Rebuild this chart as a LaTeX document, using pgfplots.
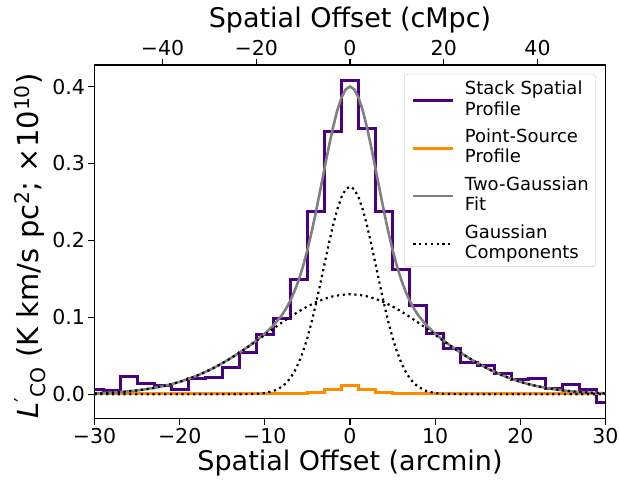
\documentclass[border=0pt]{standalone}
\usepackage{pgfplots}
\pgfplotsset{compat=1.18}
\usepackage{fontspec}
\setmainfont{DejaVu Sans}
\definecolor{cpurple}{RGB}{75,0,130}
\definecolor{corange}{RGB}{255,140,0}
\definecolor{cgrey}{RGB}{128,128,128}
\newcommand{\twoline}[2]{\vbox{\baselineskip=20.5pt\lineskiplimit=-50pt\hbox{\rule{0pt}{14pt}#1}\hbox{\rule[-3pt]{0pt}{3pt}#2}}}
\begin{document}
\begin{tikzpicture}
\begin{axis}[
  scale only axis, width=511pt, height=353.5pt,
  xmin=-30, xmax=30, ymin=-0.0315, ymax=0.428,
  xtick={-30,-20,-10,0,10,20,30}, xticklabels={−30,−20,−10,0,10,20,30},
  ytick={0,0.1,0.2,0.3,0.4}, yticklabels={0.0,0.1,0.2,0.3,0.4},
  xtick pos=left, ytick pos=left, tick align=outside, major tick length=6pt,
  every tick/.style={black, line width=1.2pt},
  axis line style={line width=1.2pt},
  tick label style={font=\fontsize{20.5}{24}\selectfont},
  xlabel style={font=\fontsize{27}{32}\selectfont},
  ylabel style={font=\fontsize{29}{34}\selectfont, at={(ticklabel cs:0.488)}},
  xlabel={Spatial Offset (arcmin)},
  ylabel={\textit{L}\textsuperscript{′}\textsubscript{CO} (K km/s pc\textsuperscript{2}; ×10\textsuperscript{10})},
  legend cell align=left,
  legend style={at={(1,1)}, anchor=north east, xshift=-9.5pt, yshift=-9pt,
    draw=black!20, rounded corners=3pt, fill=white, fill opacity=0.8, text opacity=1,
    font=\fontsize{18}{20.5}\selectfont, cells={anchor=base west, inner sep=2pt},
    row sep=7.8pt, column sep=8pt, inner xsep=5pt, inner ysep=4.5pt},
  legend image code/.code={\path (0pt,0pt); \draw[#1] (2.6pt,14.7pt) -- (42.6pt,14.7pt);},
]
\addplot[cpurple, line width=3pt, const plot mark mid] coordinates {
(-30,0.0068) (-28,0.0045) (-26,0.0225) (-24,0.0146) (-22,0.011) (-20,0.0068)
(-18,0.020) (-16,0.0216) (-14,0.0346) (-12,0.054) (-10,0.078) (-8,0.098)
(-6,0.149) (-4,0.2377) (-2,0.3417) (0,0.408) (2,0.345) (4,0.2377) (6,0.162)
(8,0.115) (10,0.079) (12,0.060) (14,0.041) (16,0.038) (18,0.027) (20,0.019)
(22,0.021) (24,0.008) (26,0.0124) (28,0.006) (30,-0.0107)};
\addlegendentry{\twoline{Stack Spatial}{Profile}}
\addplot[corange, line width=3pt, const plot mark mid] coordinates {
(-30,0.0008) (-28,0.0008) (-26,0.0008) (-24,0.0008) (-22,0.0008) (-20,0.0008)
(-18,0.0008) (-16,0.0008) (-14,0.0008) (-12,0.0008) (-10,0.0008) (-8,0.0008)
(-6,0.0008) (-4,0.002) (-2,0.0065) (0,0.0115) (2,0.0065) (4,0.002) (6,0.0008)
(8,0.0008) (10,0.0008) (12,0.0008) (14,0.0008) (16,0.0008) (18,0.0008) (20,0.0008)
(22,0.0008) (24,0.0008) (26,0.0008) (28,0.0008) (30,0.0008)};
\addlegendentry{\twoline{Point-Source}{Profile}}
\addplot[cgrey, line width=2.6pt] coordinates {
(-30,0.0012) (-29,0.0016) (-28,0.0022) (-27,0.0029) (-26,0.0038) (-25,0.0050)
(-24,0.0065) (-23,0.0083) (-22,0.0105) (-21,0.0131) (-20,0.0162) (-19,0.0199)
(-18,0.0241) (-17,0.0289) (-16,0.0343) (-15,0.0403) (-14,0.0469) (-13,0.0539)
(-12,0.0616) (-11,0.0697) (-10,0.0787) (-9,0.0893) (-8,0.1029) (-7.5,0.1115)
(-7,0.1218) (-6.5,0.1343) (-6,0.1493) (-5.5,0.1670) (-5,0.1876) (-4.5,0.2111)
(-4,0.2371) (-3.5,0.2648) (-3,0.2930) (-2.5,0.3208) (-2,0.3466) (-1.5,0.3687)
(-1,0.3856) (-0.5,0.3963) (0,0.400) (0.5,0.3963) (1,0.3856) (1.5,0.3687)
(2,0.3466) (2.5,0.3208) (3,0.2930) (3.5,0.2648) (4,0.2371) (4.5,0.2111)
(5,0.1876) (5.5,0.1670) (6,0.1493) (6.5,0.1343) (7,0.1218) (7.5,0.1115)
(8,0.1029) (9,0.0893) (10,0.0787) (11,0.0697) (12,0.0616) (13,0.0539)
(14,0.0469) (15,0.0403) (16,0.0343) (17,0.0289) (18,0.0241) (19,0.0199)
(20,0.0162) (21,0.0131) (22,0.0105) (23,0.0083) (24,0.0065) (25,0.0050)
(26,0.0038) (27,0.0029) (28,0.0022) (29,0.0016) (30,0.0012)};
\addlegendentry{\twoline{Two-Gaussian}{Fit}}
\addplot[black, line width=2.2pt, dash pattern=on 2.2pt off 3.6pt] coordinates {
(-30,0) (-14,0) (-12,0.0002) (-11,0.0005) (-10,0.0015) (-9,0.0040) (-8,0.0097)
(-7.5,0.0145) (-7,0.0211) (-6.5,0.0300) (-6,0.0415) (-5.5,0.0560) (-5,0.0735)
(-4.5,0.0941) (-4,0.1175) (-3.5,0.1428) (-3,0.1690) (-2.5,0.1950) (-2,0.2193)
(-1.5,0.2402) (-1,0.2563) (-0.5,0.2665) (0,0.270) (0.5,0.2665) (1,0.2563)
(1.5,0.2402) (2,0.2193) (2.5,0.1950) (3,0.1690) (3.5,0.1428) (4,0.1175)
(4.5,0.0941) (5,0.0735) (5.5,0.0560) (6,0.0415) (6.5,0.0300) (7,0.0211)
(7.5,0.0145) (8,0.0097) (9,0.0040) (10,0.0015) (11,0.0005) (12,0.0002) (14,0) (30,0)};
\addlegendentry{\twoline{Gaussian}{Components}}
\addplot[black, line width=2.2pt, dash pattern=on 2.2pt off 3.6pt, forget plot] coordinates {
(-30,0.0012) (-29,0.0016) (-28,0.0022) (-27,0.0029) (-26,0.0038) (-25,0.0050)
(-24,0.0065) (-23,0.0083) (-22,0.0105) (-21,0.0131) (-20,0.0162) (-19,0.0199)
(-18,0.0241) (-17,0.0289) (-16,0.0343) (-15,0.0403) (-14,0.0469) (-13,0.0539)
(-12,0.0614) (-11,0.0692) (-10,0.0772) (-9,0.0853) (-8,0.0932) (-7,0.1007)
(-6,0.1078) (-5,0.1141) (-4,0.1196) (-3,0.1240) (-2,0.1273) (-1,0.1293)
(0,0.130) (1,0.1293) (2,0.1273) (3,0.1240) (4,0.1196) (5,0.1141) (6,0.1078)
(7,0.1007) (8,0.0932) (9,0.0853) (10,0.0772) (11,0.0692) (12,0.0614)
(13,0.0539) (14,0.0469) (15,0.0403) (16,0.0343) (17,0.0289) (18,0.0241)
(19,0.0199) (20,0.0162) (21,0.0131) (22,0.0105) (23,0.0083) (24,0.0065)
(25,0.0050) (26,0.0038) (27,0.0029) (28,0.0022) (29,0.0016) (30,0.0012)};
\end{axis}
\begin{axis}[
  scale only axis, width=511pt, height=353.5pt,
  xmin=-54.5, xmax=54.5, ymin=0, ymax=1,
  hide y axis, xtick pos=right, xticklabel pos=right,
  xtick={-40,-20,0,20,40}, xticklabels={−40,−20,0,20,40},
  tick align=outside, major tick length=6pt,
  every tick/.style={black, line width=1.2pt},
  axis line style={line width=1.2pt},
  tick label style={font=\fontsize{20.5}{24}\selectfont},
  xlabel style={font=\fontsize{27}{32}\selectfont},
  xlabel={Spatial Offset (cMpc)},
]
\end{axis}
\pgfresetboundingbox
\path[use as bounding box] ([xshift=-94.5pt,yshift=-69.5pt]current axis.south west) rectangle ([xshift=13.5pt,yshift=65pt]current axis.north east);
\end{tikzpicture}
\end{document}
